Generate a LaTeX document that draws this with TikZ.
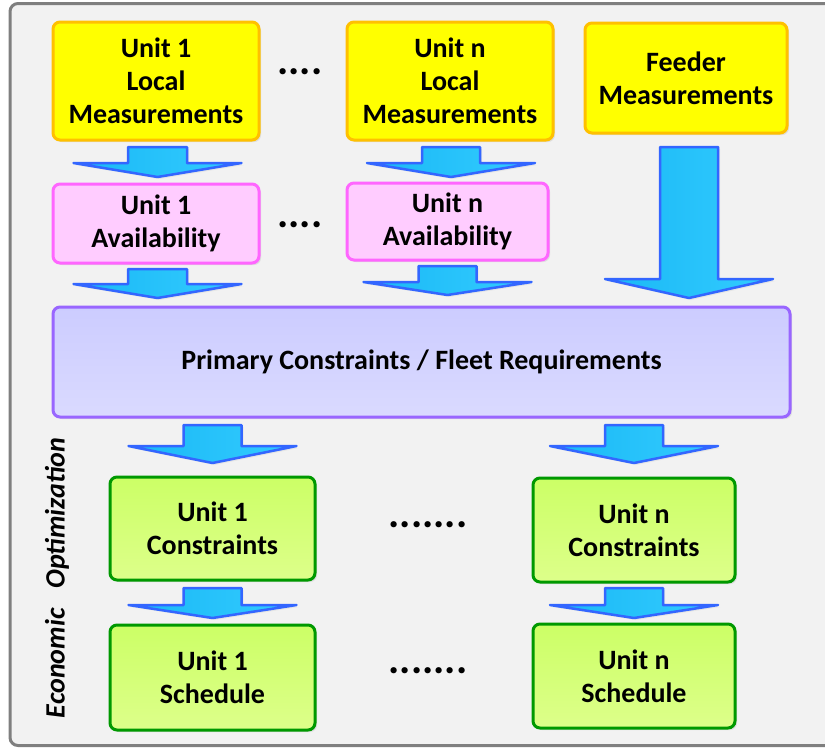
\documentclass[tikz,border=0pt]{standalone}
\usepackage{fontspec}
\setmainfont{Carlito}
\usetikzlibrary{shadows}
\definecolor{bgc}{HTML}{F2F2F2}
\definecolor{framec}{HTML}{7F7F7F}
\definecolor{yelf}{HTML}{FFFF00}
\definecolor{yeld}{HTML}{FFC000}
\definecolor{pinkf}{HTML}{FFCCFF}
\definecolor{pinkd}{HTML}{FF66FF}
\definecolor{purf}{HTML}{CCCCFF}
\definecolor{purf2}{HTML}{DADAFF}
\definecolor{purd}{HTML}{9966FF}
\definecolor{grnf}{HTML}{CCFF66}
\definecolor{grnf2}{HTML}{DDFF8A}
\definecolor{grnd}{HTML}{009900}
\definecolor{arrf}{HTML}{1AB8F5}
\definecolor{arrf2}{HTML}{33CCFF}
\definecolor{arrd}{HTML}{3366FF}
\tikzset{
  boxbase/.style={rounded corners=7pt, line width=3pt, align=center, inner sep=0pt,
    font=\fontsize{28}{33}\selectfont\bfseries,
    drop shadow={shadow xshift=2pt, shadow yshift=-2pt, fill=black!18, opacity=0.6}},
  ybox/.style={boxbase, draw=yeld, fill=yelf},
  pbox/.style={boxbase, draw=pinkd, fill=pinkf},
  vbox/.style={boxbase, draw=purd, top color=purf, bottom color=purf2},
  gbox/.style={boxbase, draw=grnd, top color=grnf, bottom color=grnf2},
  barr/.style={draw=arrd, line width=2.5pt, line join=round, left color=arrf, right color=arrf2,
    drop shadow={shadow xshift=2pt, shadow yshift=-2pt, fill=black!15, opacity=0.5}},
  dotsA/.style={font=\fontsize{42}{42}\selectfont\bfseries, inner sep=0pt},
}
% \blockarr{cx}{ytop}{halfbody}{yflare}{halfwing}{ytip}
\newcommand{\blockarr}[6]{%
  \path[barr] (#1-#3,#2) -- (#1+#3,#2) -- (#1+#3,#4) -- (#1+#5,#4) -- (#1,#6)
    -- (#1-#5,#4) -- (#1-#3,#4) -- cycle;}
\begin{document}
\begin{tikzpicture}[x=1pt,y=-1pt]
\useasboundingbox (0,0) rectangle (825,748);
% frame
\draw[framec, line width=3pt, fill=bgc, rounded corners=8pt] (10,3.5) rectangle (845,745.5);

% top row
\node[ybox, minimum width=206pt, minimum height=118pt] (l1) at (156,81) {Unit 1\\Local\\Measurements};
\node[ybox, minimum width=206pt, minimum height=118pt] (ln) at (450,81) {Unit n\\Local\\Measurements};
\node[ybox, minimum width=202pt, minimum height=110pt] (fd) at (686,78) {Feeder\\Measurements};
\node[dotsA] (d1) at (300,72) {....};

% availability
\node[pbox, minimum width=206pt, minimum height=79pt] (a1) at (156,223.5) {Unit 1\\Availability};
\node[pbox, minimum width=201pt, minimum height=77pt] (an) at (447.5,221.5) {Unit n\\Availability};
\node[dotsA] (d2) at (300,225) {....};

% primary
\node[vbox, minimum width=737pt, minimum height=110pt] (pc) at (421.5,362) {Primary Constraints / Fleet Requirements};

% constraints / schedules
\node[gbox, minimum width=205pt, minimum height=103pt] (c1) at (212.5,528.5) {Unit 1\\Constraints};
\node[gbox, minimum width=202pt, minimum height=104pt] (cn) at (634,530) {Unit n\\Constraints};
\node[gbox, minimum width=205pt, minimum height=105pt] (s1) at (212.5,677.5) {Unit 1\\Schedule};
\node[gbox, minimum width=202pt, minimum height=104pt] (sn) at (634,676) {Unit n\\Schedule};
\node[dotsA] (d3) at (428,525) {.......};
\node[dotsA] (d4) at (428,671) {.......};

% side label
\node[rotate=90, font=\fontsize{28}{30}\selectfont\bfseries\itshape, inner sep=0pt] (lab) at (57,578) {Economic\hspace{20pt}Optimization};

% block arrows
\blockarr{157.5}{147}{29.5}{163}{84}{177}
\blockarr{451}{147}{29}{163}{84}{177}
\blockarr{157.5}{269}{29.5}{284}{84}{298}
\blockarr{447.5}{266}{29}{282}{84}{295}
\blockarr{689}{147}{29}{279}{84}{298}
\blockarr{212.5}{425}{29}{446}{84}{463}
\blockarr{634}{425}{29}{446}{84}{463}
\blockarr{212.5}{588}{29}{605}{84}{618}
\blockarr{634}{588}{29}{605}{84}{618}
\end{tikzpicture}
\end{document}
